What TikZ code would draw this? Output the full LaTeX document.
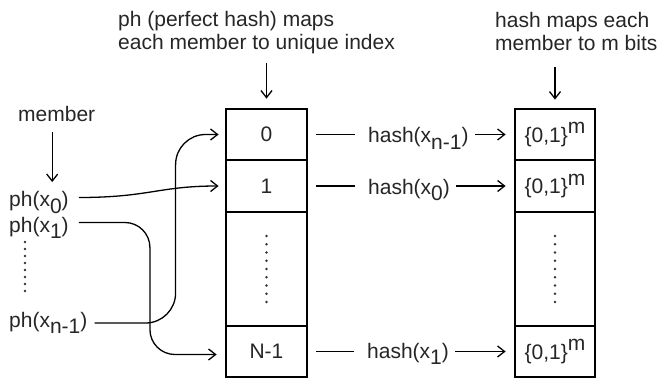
\documentclass[tikz,border=0pt]{standalone}
\usepackage{fontspec}
\setmainfont{Liberation Sans}
\usetikzlibrary{arrows.meta,calc}

% lowered / raised indices at full text size
\newcommand\sbx[1]{\raisebox{-0.32em}{#1}}
\newcommand\spx[1]{\raisebox{0.42em}{#1}}

\begin{document}
\begin{tikzpicture}[x=1pt,y=-1pt,
  lbl/.style={inner sep=0pt, font=\fontsize{21}{23}\selectfont, text=black!85},
  cell/.style={draw, line width=2.8pt, inner sep=0pt,
    font=\fontsize{21}{23}\selectfont, text=black!85},
  conn/.style={line width=1.3pt, -{Straight Barb[length=7pt,width=11pt]}},
  seg/.style={line width=1.3pt},
  dotcol/.style={line width=2.6pt, line cap=round, draw=black!80}]

\path[fill=white] (0,0) rectangle (660,379);
\useasboundingbox (0,0) rectangle (660,379);

% index table filled by the perfect hash
\node[cell, minimum width=81pt, minimum height=51pt]  (c0) at (266.5,134.5) {0};
\node[cell, minimum width=81pt, minimum height=52pt]  (c1) at (266.5,186)   {1};
\node[cell, minimum width=81pt, minimum height=114pt] (c2) at (266.5,269)   {};
\node[cell, minimum width=81pt, minimum height=51pt]  (c3) at (266.5,351.5) {N-1};

% m-bit slots
\node[cell, minimum width=80pt, minimum height=51pt]  (r0) at (555,134.5) {\{0,1\}\spx{m}};
\node[cell, minimum width=80pt, minimum height=52pt]  (r1) at (555,186)   {\{0,1\}\spx{m}};
\node[cell, minimum width=80pt, minimum height=114pt] (r2) at (555,269)   {};
\node[cell, minimum width=80pt, minimum height=51pt]  (r3) at (555,351.5) {\{0,1\}\spx{m}};

% vertical ellipses
\draw[dotcol, dash pattern=on 0pt off 8.25pt] ([yshift=33pt]c2.center) -- ([yshift=-33pt]c2.center);
\draw[dotcol, dash pattern=on 0pt off 8.25pt] ([yshift=33pt]r2.center) -- ([yshift=-33pt]r2.center);

% headings
\node[lbl, align=left, anchor=north west] (t1) at (118,11.5)
  {ph (perfect hash) maps\\each member to unique index};
\node[lbl, align=left, anchor=north west] (t2) at (495,12)
  {hash maps each\\member to m bits};
\draw[conn, shorten <=8.5pt, shorten >=9pt] (t1.south -| c0.north) -- (c0.north);
\draw[conn, shorten <=16pt, shorten >=8pt] (t2.south -| r0.north) -- (r0.north);

% members
\node[lbl, anchor=base west] (mem) at (18,122) {member};
\node[lbl, anchor=base west] (p0) at (9,207) {ph(x\sbx{0})};
\node[lbl, anchor=base west] (p1) at (9,232) {ph(x\sbx{1})};
\node[lbl, anchor=base west] (pn) at (9,327) {ph(x\sbx{n-1})};
\draw[dotcol, dash pattern=on 0pt off 7pt] (25,242) -- (25,298);

\draw[conn, shorten <=10pt, shorten >=9.5pt]
  ([xshift=-4.5pt]mem.south) -- ([xshift=-4.5pt]mem.south |- p0.north);

% perfect hash assignments
\draw[conn] ([xshift=10pt,yshift=9.5pt]p0.base east)
  .. controls +(70,0) and +(-60,0) .. ([xshift=-6pt]c1.west);
\draw[conn, rounded corners=25pt] ([xshift=10pt,yshift=9.5pt]p1.base east)
  -- ++(71,0) |- ([xshift=-8pt,yshift=-3pt]c3.west);
\draw[conn, rounded corners=30pt] ([xshift=7pt,yshift=4pt]pn.base east)
  -- ++(81,0) |- ([xshift=-6pt]c0.west);

% hash values
\node[lbl, anchor=base west] (h0) at (368,143) {hash(x\sbx{n-1})};
\node[lbl, anchor=base west] (h1) at (368,194) {hash(x\sbx{0})};
\node[lbl, anchor=base west] (h3) at (367,358) {hash(x\sbx{1})};

\foreach \c/\h/\r in {c0/h0/r0, c1/h1/r1, c3/h3/r3} {
  \draw[seg, shorten <=8pt, shorten >=13pt] (\c.east) -- (\c.east -| \h.west);
  \draw[conn, shorten <=6pt, shorten >=8pt] (\h.east |- \r.west) -- (\r.west);
}
\end{tikzpicture}
\end{document}
